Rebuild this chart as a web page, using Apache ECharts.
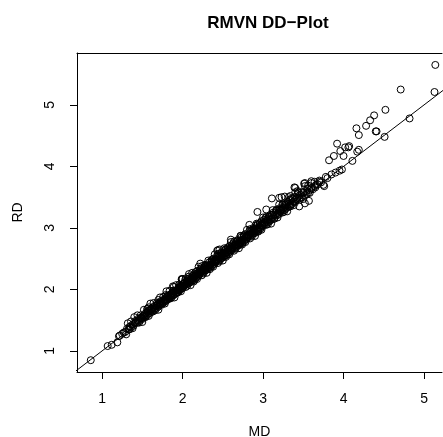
<!DOCTYPE html>
<html>
<head>
<meta charset="utf-8">
<script src="https://cdn.jsdelivr.net/npm/echarts@6/dist/echarts.min.js"></script>
<style>
html,body{margin:0;padding:0;background:#fff;}
#chart{width:443px;height:437px;}
</style>
</head>
<body>
<div id="chart"></div>
<script>
const titleText = 'RMVN DD\u2212Plot';
const xName = 'MD';
const yName = 'RD';
const xTicks = [1, 2, 3, 4, 5];
const yTicks = [1, 2, 3, 4, 5];
const refLine = [0.5, 5.5];

const bandLow = [
[1.22,1.25],[1.25,1.28],[1.27,1.30],[1.29,1.31],[1.31,1.36],[1.33,1.35],[1.34,1.39],[1.36,1.38],[1.38,1.43],[1.39,1.41],
[1.41,1.45],[1.42,1.47],[1.44,1.46],[1.45,1.50],[1.47,1.49],[1.48,1.53],[1.49,1.55],
[1.50,1.52],[1.51,1.57],[1.52,1.55],[1.53,1.60],[1.54,1.56],[1.55,1.62],[1.56,1.58],[1.57,1.63],[1.58,1.61],[1.59,1.66],
[1.60,1.62],[1.61,1.68],[1.62,1.65],[1.63,1.64],[1.64,1.71],[1.65,1.68],[1.66,1.70],[1.67,1.73],[1.68,1.70],[1.69,1.76],
[1.70,1.72],[1.71,1.78],[1.72,1.75],[1.73,1.77],[1.74,1.80],[1.75,1.77],[1.76,1.83],[1.77,1.79],[1.78,1.84],[1.79,1.81],
[1.80,1.87],[1.81,1.83],[1.82,1.88],[1.83,1.86],[1.84,1.85],[1.85,1.92],[1.86,1.89],[1.87,1.94],[1.88,1.90],[1.89,1.96],
[1.90,1.92],[1.91,1.98],[1.92,1.95],[1.93,1.99],[1.94,1.96],[1.95,2.03],[1.96,1.98],[1.97,2.04],[1.98,2.01],[1.99,2.06]
];

const bandMid = [
[2.00,2.02],[2.01,2.09],[2.02,2.06],[2.03,2.14],[2.04,2.04],[2.05,2.11],[2.06,2.15],[2.07,2.10],[2.08,2.21],[2.09,2.14],
[2.10,2.12],[2.11,2.19],[2.12,2.16],[2.13,2.23],[2.14,2.13],[2.15,2.21],[2.16,2.25],[2.17,2.20],[2.18,2.30],[2.19,2.24],
[2.20,2.22],[2.21,2.29],[2.22,2.26],[2.23,2.34],[2.24,2.23],[2.25,2.31],[2.26,2.35],[2.27,2.30],[2.28,2.40],[2.29,2.34],
[2.30,2.32],[2.31,2.39],[2.32,2.36],[2.33,2.44],[2.34,2.33],[2.35,2.41],[2.36,2.45],[2.37,2.40],[2.38,2.50],[2.39,2.44],
[2.40,2.42],[2.41,2.49],[2.42,2.46],[2.43,2.55],[2.44,2.43],[2.45,2.51],[2.46,2.56],[2.47,2.50],[2.48,2.60],[2.49,2.54],
[2.50,2.52],[2.51,2.59],[2.52,2.56],[2.53,2.65],[2.54,2.53],[2.55,2.61],[2.56,2.66],[2.57,2.60],[2.58,2.70],[2.59,2.64],
[2.60,2.62],[2.61,2.69],[2.62,2.66],[2.63,2.75],[2.64,2.63],[2.65,2.71],[2.66,2.76],[2.67,2.70],[2.68,2.80],[2.69,2.74],
[2.70,2.72],[2.71,2.79],[2.72,2.76],[2.73,2.85],[2.74,2.73],[2.75,2.81],[2.76,2.86],[2.77,2.80],[2.78,2.90],[2.79,2.84],
[2.80,2.82],[2.81,2.89],[2.82,2.86],[2.83,2.95],[2.84,2.83],[2.85,2.91],[2.86,2.96],[2.87,2.90],[2.88,3.00],[2.89,2.94],
[2.90,2.92],[2.91,2.99],[2.92,2.96],[2.93,3.06],[2.94,2.94],[2.95,3.01],[2.96,3.07],[2.97,3.00],[2.98,3.11],[2.99,3.04]
];

const bandFill = [
[1.805,1.84],[1.825,1.89],[1.845,1.87],[1.865,1.93],[1.885,1.91],[1.905,1.97],[1.925,1.94],[1.945,2.01],[1.965,2.00],[1.985,2.05],
[2.005,2.04],[2.025,2.10],[2.045,2.08],[2.065,2.13],[2.085,2.11],[2.105,2.17],[2.125,2.15],[2.145,2.20],[2.165,2.18],[2.185,2.26],
[2.205,2.24],[2.225,2.28],[2.245,2.27],[2.265,2.32],[2.285,2.31],[2.305,2.37],[2.325,2.35],[2.345,2.40],[2.365,2.38],[2.385,2.46],
[2.405,2.44],[2.425,2.48],[2.445,2.47],[2.465,2.53],[2.485,2.51],[2.505,2.57],[2.525,2.55],[2.545,2.60],[2.565,2.58],[2.585,2.66],
[2.605,2.64],[2.625,2.68],[2.645,2.67],[2.665,2.73],[2.685,2.71],[2.705,2.77],[2.725,2.75],[2.745,2.80],[2.765,2.78],[2.785,2.86],
[2.805,2.84],[2.825,2.88],[2.845,2.87],[2.865,2.93],[2.885,2.91],[2.905,2.97],[2.925,2.95],[2.945,3.00],[2.965,2.98],[2.985,3.06]
];

const bandCore = [
[1.41,1.46],[1.45,1.52],[1.49,1.53],[1.53,1.58],[1.57,1.65],[1.61,1.66],[1.65,1.73],[1.69,1.74],[1.73,1.81],[1.77,1.82],
[1.81,1.90],[1.85,1.90],[1.89,1.98],[1.93,1.98],[1.97,2.06],[2.01,2.06],[2.05,2.14],[2.09,2.15],[2.13,2.22],[2.17,2.23],
[2.21,2.31],[2.25,2.31],[2.29,2.39],[2.33,2.39],[2.37,2.47],[2.41,2.47],[2.45,2.55],[2.49,2.56],[2.53,2.63],[2.57,2.64],
[2.61,2.72],[2.65,2.72],[2.69,2.80],[2.73,2.80],[2.77,2.88],[2.81,2.88],[2.85,2.96],[2.89,2.97],[2.93,3.04],[2.97,3.05],
[3.01,3.13],[3.05,3.14],[3.09,3.21],[3.13,3.22],[3.17,3.30],[3.21,3.30],[3.25,3.38],[3.29,3.40],[3.33,3.46],[3.37,3.47]
];

const bandWide = [
[1.30,1.27],[1.32,1.45],[1.34,1.35],[1.36,1.48],[1.38,1.37],[1.40,1.55],[1.42,1.49],[1.44,1.58],[1.46,1.46],[1.48,1.58],
[1.50,1.47],[1.52,1.67],[1.54,1.55],[1.56,1.68],[1.58,1.57],[1.60,1.77],[1.62,1.69],[1.64,1.78],[1.66,1.66],[1.68,1.78],
[1.70,1.67],[1.72,1.87],[1.74,1.75],[1.76,1.88],[1.78,1.77],[1.80,1.97],[1.82,1.89],[1.84,1.98],[1.86,1.86],[1.88,1.98],
[1.90,1.87],[1.92,2.07],[1.94,1.95],[1.96,2.08],[1.98,1.97],[2.00,2.17],[2.02,2.09],[2.04,2.18],[2.06,2.06],[2.08,2.18],
[2.10,2.07],[2.12,2.27],[2.14,2.15],[2.16,2.28],[2.18,2.17],[2.20,2.37],[2.22,2.29],[2.24,2.38],[2.26,2.26],[2.28,2.38],
[2.30,2.27],[2.32,2.47],[2.34,2.35],[2.36,2.48],[2.38,2.37],[2.40,2.57],[2.42,2.49],[2.44,2.58],[2.46,2.46],[2.48,2.58],
[2.50,2.47],[2.52,2.67],[2.54,2.55],[2.56,2.68],[2.58,2.57],[2.60,2.77],[2.62,2.69],[2.64,2.78],[2.66,2.66],[2.68,2.78],
[2.70,2.67],[2.72,2.87],[2.74,2.75],[2.76,2.88],[2.78,2.77],[2.80,2.97],[2.82,2.89],[2.84,2.98],[2.86,2.86],[2.88,2.98],
[2.90,2.87],[2.92,3.07],[2.94,2.95],[2.96,3.08],[2.98,2.97],[3.00,3.17],[3.02,3.09],[3.04,3.18],[3.06,3.06],[3.08,3.18],
[3.10,3.07],[3.12,3.29],[3.14,3.15],[3.16,3.28],[3.18,3.17],[3.20,3.38],[3.22,3.29],[3.24,3.38],[3.26,3.26],[3.28,3.38],
[3.30,3.27],[3.32,3.50],[3.34,3.35],[3.36,3.48],[3.38,3.37],[3.40,3.58],[3.42,3.49],[3.44,3.58],[3.46,3.46],[3.48,3.58],
[3.50,3.47],[3.52,3.68],[3.54,3.55],[3.56,3.69],[3.58,3.57],[3.60,3.76]
];

const bandHigh = [
[3.00,3.03],[3.01,3.10],[3.02,3.06],[3.03,3.16],[3.04,3.05],[3.05,3.12],[3.06,3.09],[3.07,3.18],[3.08,3.11],[3.09,3.14],
[3.10,3.13],[3.11,3.21],[3.12,3.16],[3.13,3.25],[3.14,3.15],[3.15,3.22],[3.16,3.20],[3.17,3.28],[3.18,3.21],[3.19,3.25],
[3.20,3.23],[3.21,3.32],[3.22,3.26],[3.23,3.30],[3.24,3.25],[3.25,3.33],[3.26,3.29],[3.27,3.38],[3.28,3.31],[3.29,3.36],
[3.30,3.33],[3.31,3.42],[3.32,3.35],[3.34,3.38],[3.35,3.45],[3.36,3.39],[3.38,3.43],[3.39,3.50],[3.40,3.42],[3.42,3.47],
[3.43,3.55],[3.45,3.48],[3.46,3.54],[3.48,3.50],[3.50,3.58],[3.52,3.53],[3.54,3.60],[3.56,3.57],[3.58,3.62],[3.60,3.64],
[3.62,3.63],[3.64,3.68],[3.66,3.70],[3.68,3.71],[3.70,3.75],[3.65,3.66],[3.72,3.74],[3.80,3.81]
];

const outliers = [
[5.14,5.65],[4.71,5.25],[5.13,5.21],[4.52,4.92],[4.82,4.78],[4.38,4.83],[4.33,4.75],[4.28,4.66],[4.16,4.62],[4.19,4.51],
[4.40,4.57],[4.41,4.57],[4.51,4.48],[3.92,4.37],[4.07,4.33],[4.06,4.31],[4.02,4.31],[3.96,4.25],[4.19,4.27],[4.17,4.24],
[3.88,4.17],[4.00,4.17],[3.82,4.10],[4.11,4.09],[3.95,3.93],[3.98,3.95],[3.90,3.90],[3.85,3.87],[3.78,3.83],[3.75,3.70],
[3.76,3.68],[3.70,3.77],[3.64,3.75],[3.60,3.73],[3.52,3.73],[3.40,3.65],[3.55,3.64],[3.43,3.60],[3.34,3.52],[3.11,3.48],
[3.20,3.49],[3.27,3.51],[3.45,3.52],[3.57,3.44],[3.52,3.40],[3.45,3.35],[2.93,3.26],[3.04,3.30],[2.83,3.05],[2.60,2.81],
[2.44,2.64],[2.46,2.65],[2.22,2.42],[2.08,2.25],[1.99,2.16],[1.89,2.04],[1.79,1.91],[1.70,1.83],[1.57,1.69],[1.48,1.54],
[1.35,1.40],[1.21,1.24],[1.19,1.14],[1.12,1.10],[1.07,1.08],[0.86,0.85],
[1.99,2.17],[2.72,2.87],[2.43,2.63],[3.23,3.50],[3.39,3.66],[3.51,3.72],[1.88,2.05],[1.58,1.71]
];

const FONT = "'Liberation Sans', Arial, Helvetica, sans-serif";
const allPoints = bandLow.concat(bandMid, bandFill, bandCore, bandWide, bandHigh, outliers);
const X_MIN = 0.689, X_MAX = 5.223, Y_MIN = 0.658, Y_MAX = 5.844;

const chart = echarts.init(document.getElementById('chart'), null, {renderer: 'canvas', width: 443, height: 437});
chart.setOption({
  animation: false,
  backgroundColor: '#fff',
  title: {
    text: titleText,
    left: 263,
    top: 10,
    textAlign: 'center',
    textStyle: {fontFamily: FONT, fontSize: 17, fontWeight: 'bold', color: '#000'}
  },
  grid: {
    left: 77, top: 53, right: 1, bottom: 65,
    show: false,
    containLabel: false,
    outerBoundsMode: 'none'
  },
  xAxis: [{
    type: 'value', min: X_MIN, max: X_MAX, position: 'bottom',
    name: xName, nameLocation: 'middle', nameGap: 53,
    nameTextStyle: {fontFamily: FONT, fontSize: 14, color: '#000'},
    axisLine: {show: true, onZero: false, lineStyle: {color: '#000', width: 1}},
    splitLine: {show: false},
    axisTick: {show: true, inside: false, length: 7, customValues: xTicks, lineStyle: {color: '#000', width: 1}},
    axisLabel: {show: true, margin: 20, customValues: xTicks, fontFamily: FONT, fontSize: 14, color: '#000'}
  }, {
    type: 'value', min: X_MIN, max: X_MAX, position: 'top',
    axisLine: {show: true, onZero: false, lineStyle: {color: '#000', width: 1}},
    splitLine: {show: false},
    axisTick: {show: false},
    axisLabel: {show: false}
  }],
  yAxis: {
    type: 'value', min: Y_MIN, max: Y_MAX,
    name: yName, nameLocation: 'middle', nameGap: 52, nameRotate: 90,
    nameTextStyle: {fontFamily: FONT, fontSize: 14, color: '#000'},
    axisLine: {show: true, onZero: false, lineStyle: {color: '#000', width: 1}},
    splitLine: {show: false},
    axisTick: {show: true, inside: false, length: 7, customValues: yTicks, lineStyle: {color: '#000', width: 1}},
    axisLabel: {show: true, margin: 20, rotate: 90, customValues: yTicks, fontFamily: FONT, fontSize: 14, color: '#000'}
  },
  series: [
    {
      type: 'scatter',
      data: allPoints,
      symbol: 'circle',
      symbolSize: 7,
      silent: true,
      itemStyle: {color: 'rgba(0,0,0,0)', borderColor: '#000', borderWidth: 1, opacity: 1}
    },
    {
      type: 'line',
      data: [[refLine[0], refLine[0]], [refLine[1], refLine[1]]],
      showSymbol: false,
      symbol: 'none',
      silent: true,
      clip: true,
      lineStyle: {color: '#000', width: 1}
    }
  ]
});
</script>
</body>
</html>
